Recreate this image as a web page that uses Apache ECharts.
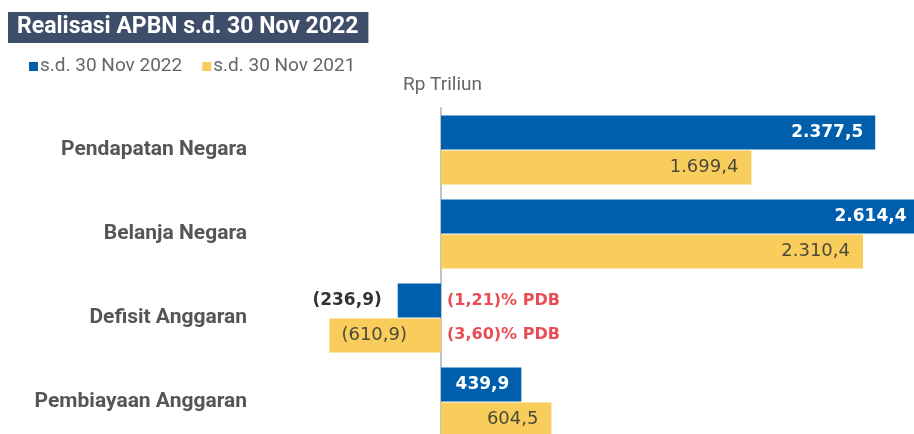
<!DOCTYPE html>
<html>
<head>
<meta charset="utf-8">
<script src="https://cdn.jsdelivr.net/npm/echarts@6/dist/echarts.min.js"></script>
<style>
html,body{margin:0;padding:0;background:#fff;}
#chart{width:914px;height:434px;}
</style>
</head>
<body>
<div id="chart"></div>
<script>
var titleText = 'Realisasi APBN s.d. 30 Nov 2022';
var unitText = 'Rp Triliun';
var categories = ['Pendapatan Negara', 'Belanja Negara', 'Defisit Anggaran', 'Pembiayaan Anggaran'];
var seriesNames = ['s.d. 30 Nov 2022', 's.d. 30 Nov 2021'];
var values2022 = [2377.5, 2614.4, -236.9, 439.9];
var values2021 = [1699.4, 2310.4, -610.9, 604.5];
var pdbLabels2022 = ['(1,21)% PDB'];
var pdbLabels2021 = ['(3,60)% PDB'];
var pdbCategory = 'Defisit Anggaran';

function fmt(v) {
  var neg = v < 0;
  var a = Math.abs(v);
  var parts = a.toFixed(1).split('.');
  var intPart = parts[0].replace(/\B(?=(\d{3})+(?!\d))/g, '.');
  var s = intPart + ',' + parts[1];
  return neg ? '(' + s + ')' : s;
}

var BLUE = '#005fad';
var YELLOW = '#f9cd5b';
var FONT = 'Roboto';
var NUMFONT = '"DejaVu Sans", sans-serif';

var chart = echarts.init(document.getElementById('chart'), null, {renderer: 'canvas'});

function barData(vals, isBlue) {
  return vals.map(function (v) {
    var d = {value: v};
    if (v < 0) {
      if (isBlue) {
        d.label = {position: 'left', distance: 16, color: '#333', fontWeight: 'bold'};
      } else {
        d.label = {position: 'insideLeft', distance: 12};
      }
    }
    return d;
  });
}

var option = {
  animation: false,
  backgroundColor: '#fff',
  title: {
    text: titleText,
    left: 8,
    top: 12,
    backgroundColor: '#3e4d69',
    padding: [4, 10, 4, 9],
    textStyle: {color: '#fff', fontFamily: FONT, fontWeight: 'bold', fontSize: 23}
  },
  legend: {
    left: 24,
    top: 52,
    itemWidth: 9,
    itemHeight: 9,
    itemGap: 20,
    icon: 'rect',
    textStyle: {color: '#666', fontFamily: FONT, fontSize: 19, padding: [0, 0, 0, -3]},
    data: seriesNames
  },
  graphic: [{
    type: 'text',
    left: 403,
    top: 76,
    style: {text: unitText, fill: '#666', font: '19px Roboto'}
  }],
  grid: {left: 260, right: -11, top: 108, bottom: -10, containLabel: false, outerBoundsMode: 'none'},
  xAxis: {
    type: 'value',
    min: -991,
    max: 2650,
    show: false,
    splitLine: {show: false}
  },
  yAxis: {
    type: 'category',
    data: categories,
    inverse: true,
    axisTick: {show: false},
    axisLine: {show: true, onZero: true, lineStyle: {color: '#c4c4c4', width: 2}},
    axisLabel: {
      margin: 13,
      color: '#555',
      fontFamily: FONT,
      fontWeight: 'bold',
      fontSize: 21,
      padding: [4, 0, 0, 0]
    }
  },
  series: [
    {
      name: seriesNames[0],
      type: 'bar',
      barWidth: 34,
      barGap: '3%',
      itemStyle: {color: BLUE},
      z: 2,
      label: {
        show: true,
        position: 'insideRight',
        distance: 12,
        color: '#fff',
        fontFamily: NUMFONT,
        fontWeight: 'bold',
        fontSize: 17,
        formatter: function (p) { return fmt(p.value); }
      },
      data: barData(values2022, true)
    },
    {
      name: seriesNames[1],
      type: 'bar',
      barWidth: 34,
      barGap: '3%',
      itemStyle: {color: YELLOW},
      z: 2,
      label: {
        show: true,
        position: 'insideRight',
        distance: 13,
        color: '#4a4a3a',
        fontFamily: NUMFONT,
        fontSize: 18,
        formatter: function (p) { return fmt(p.value); }
      },
      data: barData(values2021, false)
    },
    {
      name: 'pdb',
      type: 'scatter',
      symbolSize: 0,
      silent: true,
      z: 5,
      label: {
        show: true,
        position: 'right',
        distance: 6,
        color: '#e61e28',
        fontFamily: NUMFONT,
        fontWeight: 'bold',
        fontSize: 16
      },
      data: [
        {value: [0, pdbCategory], label: {formatter: pdbLabels2022[0], offset: [0, -17]}},
        {value: [0, pdbCategory], label: {formatter: pdbLabels2021[0], offset: [0, 17]}}
      ]
    }
  ]
};
chart.setOption(option);
</script>
</body>
</html>
